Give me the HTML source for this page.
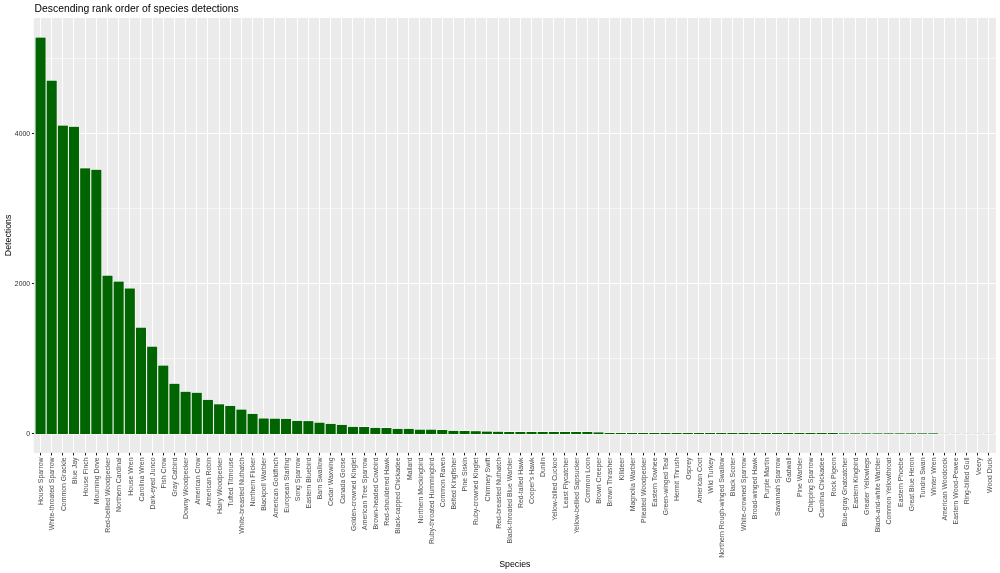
<!DOCTYPE html>
<html><head><meta charset="utf-8"><title>Descending rank order of species detections</title>
<style>
html,body{margin:0;padding:0;background:#fff;}
body{width:1000px;height:573px;overflow:hidden;}
svg{display:block;will-change:transform;}
text{font-family:"Liberation Sans",Arial,Helvetica,sans-serif;}
</style></head><body>
<svg width="1000" height="573" viewBox="0 0 1000 573">
<rect x="0" y="0" width="1000" height="573" fill="#fff"/>
<rect x="33.8" y="17.9" width="962.10" height="435.00" fill="#EBEBEB"/>
<line x1="33.8" x2="995.9" y1="358.5" y2="358.5" stroke="#fff" stroke-width="1" stroke-opacity="0.55"/>
<line x1="33.8" x2="995.9" y1="208.5" y2="208.5" stroke="#fff" stroke-width="1" stroke-opacity="0.55"/>
<line x1="33.8" x2="995.9" y1="58.5" y2="58.5" stroke="#fff" stroke-width="1" stroke-opacity="0.55"/>
<line x1="33.8" x2="995.9" y1="433.5" y2="433.5" stroke="#fff" stroke-width="1"/>
<line x1="33.8" x2="995.9" y1="283.5" y2="283.5" stroke="#fff" stroke-width="1"/>
<line x1="33.8" x2="995.9" y1="133.5" y2="133.5" stroke="#fff" stroke-width="1"/>
<line x1="40.5" x2="40.5" y1="17.9" y2="452.9" stroke="#fff" stroke-width="1"/>
<line x1="51.5" x2="51.5" y1="17.9" y2="452.9" stroke="#fff" stroke-width="1"/>
<line x1="62.5" x2="62.5" y1="17.9" y2="452.9" stroke="#fff" stroke-width="1"/>
<line x1="73.5" x2="73.5" y1="17.9" y2="452.9" stroke="#fff" stroke-width="1"/>
<line x1="85.5" x2="85.5" y1="17.9" y2="452.9" stroke="#fff" stroke-width="1"/>
<line x1="96.5" x2="96.5" y1="17.9" y2="452.9" stroke="#fff" stroke-width="1"/>
<line x1="107.5" x2="107.5" y1="17.9" y2="452.9" stroke="#fff" stroke-width="1"/>
<line x1="118.5" x2="118.5" y1="17.9" y2="452.9" stroke="#fff" stroke-width="1"/>
<line x1="129.5" x2="129.5" y1="17.9" y2="452.9" stroke="#fff" stroke-width="1"/>
<line x1="140.5" x2="140.5" y1="17.9" y2="452.9" stroke="#fff" stroke-width="1"/>
<line x1="152.5" x2="152.5" y1="17.9" y2="452.9" stroke="#fff" stroke-width="1"/>
<line x1="163.5" x2="163.5" y1="17.9" y2="452.9" stroke="#fff" stroke-width="1"/>
<line x1="174.5" x2="174.5" y1="17.9" y2="452.9" stroke="#fff" stroke-width="1"/>
<line x1="185.5" x2="185.5" y1="17.9" y2="452.9" stroke="#fff" stroke-width="1"/>
<line x1="196.5" x2="196.5" y1="17.9" y2="452.9" stroke="#fff" stroke-width="1"/>
<line x1="207.5" x2="207.5" y1="17.9" y2="452.9" stroke="#fff" stroke-width="1"/>
<line x1="219.5" x2="219.5" y1="17.9" y2="452.9" stroke="#fff" stroke-width="1"/>
<line x1="230.5" x2="230.5" y1="17.9" y2="452.9" stroke="#fff" stroke-width="1"/>
<line x1="241.5" x2="241.5" y1="17.9" y2="452.9" stroke="#fff" stroke-width="1"/>
<line x1="252.5" x2="252.5" y1="17.9" y2="452.9" stroke="#fff" stroke-width="1"/>
<line x1="263.5" x2="263.5" y1="17.9" y2="452.9" stroke="#fff" stroke-width="1"/>
<line x1="274.5" x2="274.5" y1="17.9" y2="452.9" stroke="#fff" stroke-width="1"/>
<line x1="285.5" x2="285.5" y1="17.9" y2="452.9" stroke="#fff" stroke-width="1"/>
<line x1="297.5" x2="297.5" y1="17.9" y2="452.9" stroke="#fff" stroke-width="1"/>
<line x1="308.5" x2="308.5" y1="17.9" y2="452.9" stroke="#fff" stroke-width="1"/>
<line x1="319.5" x2="319.5" y1="17.9" y2="452.9" stroke="#fff" stroke-width="1"/>
<line x1="330.5" x2="330.5" y1="17.9" y2="452.9" stroke="#fff" stroke-width="1"/>
<line x1="341.5" x2="341.5" y1="17.9" y2="452.9" stroke="#fff" stroke-width="1"/>
<line x1="352.5" x2="352.5" y1="17.9" y2="452.9" stroke="#fff" stroke-width="1"/>
<line x1="364.5" x2="364.5" y1="17.9" y2="452.9" stroke="#fff" stroke-width="1"/>
<line x1="375.5" x2="375.5" y1="17.9" y2="452.9" stroke="#fff" stroke-width="1"/>
<line x1="386.5" x2="386.5" y1="17.9" y2="452.9" stroke="#fff" stroke-width="1"/>
<line x1="397.5" x2="397.5" y1="17.9" y2="452.9" stroke="#fff" stroke-width="1"/>
<line x1="408.5" x2="408.5" y1="17.9" y2="452.9" stroke="#fff" stroke-width="1"/>
<line x1="419.5" x2="419.5" y1="17.9" y2="452.9" stroke="#fff" stroke-width="1"/>
<line x1="431.5" x2="431.5" y1="17.9" y2="452.9" stroke="#fff" stroke-width="1"/>
<line x1="442.5" x2="442.5" y1="17.9" y2="452.9" stroke="#fff" stroke-width="1"/>
<line x1="453.5" x2="453.5" y1="17.9" y2="452.9" stroke="#fff" stroke-width="1"/>
<line x1="464.5" x2="464.5" y1="17.9" y2="452.9" stroke="#fff" stroke-width="1"/>
<line x1="475.5" x2="475.5" y1="17.9" y2="452.9" stroke="#fff" stroke-width="1"/>
<line x1="486.5" x2="486.5" y1="17.9" y2="452.9" stroke="#fff" stroke-width="1"/>
<line x1="498.5" x2="498.5" y1="17.9" y2="452.9" stroke="#fff" stroke-width="1"/>
<line x1="509.5" x2="509.5" y1="17.9" y2="452.9" stroke="#fff" stroke-width="1"/>
<line x1="520.5" x2="520.5" y1="17.9" y2="452.9" stroke="#fff" stroke-width="1"/>
<line x1="531.5" x2="531.5" y1="17.9" y2="452.9" stroke="#fff" stroke-width="1"/>
<line x1="542.5" x2="542.5" y1="17.9" y2="452.9" stroke="#fff" stroke-width="1"/>
<line x1="553.5" x2="553.5" y1="17.9" y2="452.9" stroke="#fff" stroke-width="1"/>
<line x1="564.5" x2="564.5" y1="17.9" y2="452.9" stroke="#fff" stroke-width="1"/>
<line x1="576.5" x2="576.5" y1="17.9" y2="452.9" stroke="#fff" stroke-width="1"/>
<line x1="587.5" x2="587.5" y1="17.9" y2="452.9" stroke="#fff" stroke-width="1"/>
<line x1="598.5" x2="598.5" y1="17.9" y2="452.9" stroke="#fff" stroke-width="1"/>
<line x1="609.5" x2="609.5" y1="17.9" y2="452.9" stroke="#fff" stroke-width="1"/>
<line x1="620.5" x2="620.5" y1="17.9" y2="452.9" stroke="#fff" stroke-width="1"/>
<line x1="631.5" x2="631.5" y1="17.9" y2="452.9" stroke="#fff" stroke-width="1"/>
<line x1="643.5" x2="643.5" y1="17.9" y2="452.9" stroke="#fff" stroke-width="1"/>
<line x1="654.5" x2="654.5" y1="17.9" y2="452.9" stroke="#fff" stroke-width="1"/>
<line x1="665.5" x2="665.5" y1="17.9" y2="452.9" stroke="#fff" stroke-width="1"/>
<line x1="676.5" x2="676.5" y1="17.9" y2="452.9" stroke="#fff" stroke-width="1"/>
<line x1="687.5" x2="687.5" y1="17.9" y2="452.9" stroke="#fff" stroke-width="1"/>
<line x1="698.5" x2="698.5" y1="17.9" y2="452.9" stroke="#fff" stroke-width="1"/>
<line x1="710.5" x2="710.5" y1="17.9" y2="452.9" stroke="#fff" stroke-width="1"/>
<line x1="721.5" x2="721.5" y1="17.9" y2="452.9" stroke="#fff" stroke-width="1"/>
<line x1="732.5" x2="732.5" y1="17.9" y2="452.9" stroke="#fff" stroke-width="1"/>
<line x1="743.5" x2="743.5" y1="17.9" y2="452.9" stroke="#fff" stroke-width="1"/>
<line x1="754.5" x2="754.5" y1="17.9" y2="452.9" stroke="#fff" stroke-width="1"/>
<line x1="765.5" x2="765.5" y1="17.9" y2="452.9" stroke="#fff" stroke-width="1"/>
<line x1="776.5" x2="776.5" y1="17.9" y2="452.9" stroke="#fff" stroke-width="1"/>
<line x1="788.5" x2="788.5" y1="17.9" y2="452.9" stroke="#fff" stroke-width="1"/>
<line x1="799.5" x2="799.5" y1="17.9" y2="452.9" stroke="#fff" stroke-width="1"/>
<line x1="810.5" x2="810.5" y1="17.9" y2="452.9" stroke="#fff" stroke-width="1"/>
<line x1="821.5" x2="821.5" y1="17.9" y2="452.9" stroke="#fff" stroke-width="1"/>
<line x1="832.5" x2="832.5" y1="17.9" y2="452.9" stroke="#fff" stroke-width="1"/>
<line x1="843.5" x2="843.5" y1="17.9" y2="452.9" stroke="#fff" stroke-width="1"/>
<line x1="855.5" x2="855.5" y1="17.9" y2="452.9" stroke="#fff" stroke-width="1"/>
<line x1="866.5" x2="866.5" y1="17.9" y2="452.9" stroke="#fff" stroke-width="1"/>
<line x1="877.5" x2="877.5" y1="17.9" y2="452.9" stroke="#fff" stroke-width="1"/>
<line x1="888.5" x2="888.5" y1="17.9" y2="452.9" stroke="#fff" stroke-width="1"/>
<line x1="899.5" x2="899.5" y1="17.9" y2="452.9" stroke="#fff" stroke-width="1"/>
<line x1="910.5" x2="910.5" y1="17.9" y2="452.9" stroke="#fff" stroke-width="1"/>
<line x1="922.5" x2="922.5" y1="17.9" y2="452.9" stroke="#fff" stroke-width="1"/>
<line x1="933.5" x2="933.5" y1="17.9" y2="452.9" stroke="#fff" stroke-width="1"/>
<line x1="944.5" x2="944.5" y1="17.9" y2="452.9" stroke="#fff" stroke-width="1"/>
<line x1="955.5" x2="955.5" y1="17.9" y2="452.9" stroke="#fff" stroke-width="1"/>
<line x1="966.5" x2="966.5" y1="17.9" y2="452.9" stroke="#fff" stroke-width="1"/>
<line x1="977.5" x2="977.5" y1="17.9" y2="452.9" stroke="#fff" stroke-width="1"/>
<line x1="988.5" x2="988.5" y1="17.9" y2="452.9" stroke="#fff" stroke-width="1"/>
<g fill="#006400" stroke="#fff" stroke-width="1" paint-order="stroke">
<rect x="35.53" y="37.60" width="10.04" height="396.40"/>
<rect x="46.69" y="80.70" width="10.04" height="353.30"/>
<rect x="57.85" y="125.60" width="10.04" height="308.40"/>
<rect x="69.00" y="126.80" width="10.04" height="307.20"/>
<rect x="80.16" y="168.35" width="10.04" height="265.65"/>
<rect x="91.32" y="169.80" width="10.04" height="264.20"/>
<rect x="102.48" y="275.70" width="10.04" height="158.30"/>
<rect x="113.64" y="281.60" width="10.04" height="152.40"/>
<rect x="124.80" y="288.50" width="10.04" height="145.50"/>
<rect x="135.96" y="327.70" width="10.04" height="106.30"/>
<rect x="147.12" y="346.70" width="10.04" height="87.30"/>
<rect x="158.27" y="365.60" width="10.04" height="68.40"/>
<rect x="169.43" y="383.80" width="10.04" height="50.20"/>
<rect x="180.59" y="391.80" width="10.04" height="42.20"/>
<rect x="191.75" y="392.80" width="10.04" height="41.20"/>
<rect x="202.91" y="399.90" width="10.04" height="34.10"/>
<rect x="214.07" y="404.30" width="10.04" height="29.70"/>
<rect x="225.23" y="405.90" width="10.04" height="28.10"/>
<rect x="236.39" y="409.60" width="10.04" height="24.40"/>
<rect x="247.54" y="413.90" width="10.04" height="20.10"/>
<rect x="258.70" y="418.50" width="10.04" height="15.50"/>
<rect x="269.86" y="418.70" width="10.04" height="15.30"/>
<rect x="281.02" y="418.90" width="10.04" height="15.10"/>
<rect x="292.18" y="420.90" width="10.04" height="13.10"/>
<rect x="303.34" y="421.10" width="10.04" height="12.90"/>
<rect x="314.50" y="422.70" width="10.04" height="11.30"/>
<rect x="325.65" y="423.90" width="10.04" height="10.10"/>
<rect x="336.81" y="424.90" width="10.04" height="9.10"/>
<rect x="347.97" y="426.90" width="10.04" height="7.10"/>
<rect x="359.13" y="427.00" width="10.04" height="7.00"/>
<rect x="370.29" y="427.90" width="10.04" height="6.10"/>
<rect x="381.45" y="428.00" width="10.04" height="6.00"/>
<rect x="392.61" y="428.90" width="10.04" height="5.10"/>
<rect x="403.77" y="428.90" width="10.04" height="5.10"/>
<rect x="414.92" y="429.70" width="10.04" height="4.30"/>
<rect x="426.08" y="429.70" width="10.04" height="4.30"/>
<rect x="437.24" y="430.00" width="10.04" height="4.00"/>
<rect x="448.40" y="430.90" width="10.04" height="3.10"/>
<rect x="459.56" y="431.00" width="10.04" height="3.00"/>
<rect x="470.72" y="431.20" width="10.04" height="2.80"/>
<rect x="481.88" y="431.60" width="10.04" height="2.40"/>
<rect x="493.04" y="431.80" width="10.04" height="2.20"/>
<rect x="504.19" y="432.00" width="10.04" height="2.00"/>
<rect x="515.35" y="432.00" width="10.04" height="2.00"/>
<rect x="526.51" y="432.00" width="10.04" height="2.00"/>
<rect x="537.67" y="432.00" width="10.04" height="2.00"/>
<rect x="548.83" y="432.00" width="10.04" height="2.00"/>
<rect x="559.99" y="432.00" width="10.04" height="2.00"/>
<rect x="571.15" y="432.00" width="10.04" height="2.00"/>
<rect x="582.30" y="432.00" width="10.04" height="2.00"/>
<rect x="593.46" y="432.40" width="10.04" height="1.60"/>
<rect x="604.62" y="433.00" width="10.04" height="1.00"/>
<rect x="615.78" y="433.00" width="10.04" height="1.00"/>
<rect x="626.94" y="433.00" width="10.04" height="1.00"/>
<rect x="638.10" y="433.00" width="10.04" height="1.00"/>
<rect x="649.26" y="433.00" width="10.04" height="1.00"/>
<rect x="660.42" y="433.00" width="10.04" height="1.00"/>
<rect x="671.57" y="433.00" width="10.04" height="1.00"/>
<rect x="682.73" y="433.00" width="10.04" height="1.00"/>
<rect x="693.89" y="433.00" width="10.04" height="1.00"/>
<rect x="705.05" y="433.00" width="10.04" height="1.00"/>
<rect x="716.21" y="433.00" width="10.04" height="1.00"/>
<rect x="727.37" y="433.00" width="10.04" height="1.00"/>
<rect x="738.53" y="433.00" width="10.04" height="1.00"/>
<rect x="749.69" y="433.00" width="10.04" height="1.00"/>
<rect x="760.84" y="433.00" width="10.04" height="1.00"/>
<rect x="772.00" y="433.00" width="10.04" height="1.00"/>
<rect x="783.16" y="433.00" width="10.04" height="1.00"/>
<rect x="794.32" y="433.00" width="10.04" height="1.00"/>
<rect x="805.48" y="433.00" width="10.04" height="1.00"/>
<rect x="816.64" y="433.00" width="10.04" height="1.00"/>
<rect x="827.80" y="433.00" width="10.04" height="1.00"/>
<rect x="838.95" y="433.35" width="10.04" height="0.65"/>
<rect x="850.11" y="433.35" width="10.04" height="0.65"/>
<rect x="861.27" y="433.35" width="10.04" height="0.65"/>
<rect x="872.43" y="433.35" width="10.04" height="0.65"/>
<rect x="883.59" y="433.35" width="10.04" height="0.65"/>
<rect x="894.75" y="433.35" width="10.04" height="0.65"/>
<rect x="905.91" y="433.35" width="10.04" height="0.65"/>
<rect x="917.07" y="433.35" width="10.04" height="0.65"/>
<rect x="928.22" y="433.35" width="10.04" height="0.65"/>
<rect x="939.38" y="433.85" width="10.04" height="0.15"/>
<rect x="950.54" y="433.85" width="10.04" height="0.15"/>
<rect x="961.70" y="433.85" width="10.04" height="0.15"/>
<rect x="972.86" y="433.85" width="10.04" height="0.15"/>
<rect x="984.02" y="433.85" width="10.04" height="0.15"/>
</g>
<line x1="31.9" x2="34.1" y1="433.5" y2="433.5" stroke="#1a1a1a" stroke-width="1"/>
<line x1="31.9" x2="34.1" y1="283.5" y2="283.5" stroke="#1a1a1a" stroke-width="1"/>
<line x1="31.9" x2="34.1" y1="133.5" y2="133.5" stroke="#1a1a1a" stroke-width="1"/>
<line x1="40.50" x2="40.50" y1="452.9" y2="455.40" stroke="#1a1a1a" stroke-width="1"/>
<line x1="51.50" x2="51.50" y1="452.9" y2="455.40" stroke="#1a1a1a" stroke-width="1"/>
<line x1="62.50" x2="62.50" y1="452.9" y2="455.40" stroke="#1a1a1a" stroke-width="1"/>
<line x1="73.50" x2="73.50" y1="452.9" y2="455.40" stroke="#1a1a1a" stroke-width="1"/>
<line x1="85.50" x2="85.50" y1="452.9" y2="455.40" stroke="#1a1a1a" stroke-width="1"/>
<line x1="96.50" x2="96.50" y1="452.9" y2="455.40" stroke="#1a1a1a" stroke-width="1"/>
<line x1="107.50" x2="107.50" y1="452.9" y2="455.40" stroke="#1a1a1a" stroke-width="1"/>
<line x1="118.50" x2="118.50" y1="452.9" y2="455.40" stroke="#1a1a1a" stroke-width="1"/>
<line x1="129.50" x2="129.50" y1="452.9" y2="455.40" stroke="#1a1a1a" stroke-width="1"/>
<line x1="140.50" x2="140.50" y1="452.9" y2="455.40" stroke="#1a1a1a" stroke-width="1"/>
<line x1="152.50" x2="152.50" y1="452.9" y2="455.40" stroke="#1a1a1a" stroke-width="1"/>
<line x1="163.50" x2="163.50" y1="452.9" y2="455.40" stroke="#1a1a1a" stroke-width="1"/>
<line x1="174.50" x2="174.50" y1="452.9" y2="455.40" stroke="#1a1a1a" stroke-width="1"/>
<line x1="185.50" x2="185.50" y1="452.9" y2="455.40" stroke="#1a1a1a" stroke-width="1"/>
<line x1="196.50" x2="196.50" y1="452.9" y2="455.40" stroke="#1a1a1a" stroke-width="1"/>
<line x1="207.50" x2="207.50" y1="452.9" y2="455.40" stroke="#1a1a1a" stroke-width="1"/>
<line x1="219.50" x2="219.50" y1="452.9" y2="455.40" stroke="#1a1a1a" stroke-width="1"/>
<line x1="230.50" x2="230.50" y1="452.9" y2="455.40" stroke="#1a1a1a" stroke-width="1"/>
<line x1="241.50" x2="241.50" y1="452.9" y2="455.40" stroke="#1a1a1a" stroke-width="1"/>
<line x1="252.50" x2="252.50" y1="452.9" y2="455.40" stroke="#1a1a1a" stroke-width="1"/>
<line x1="263.50" x2="263.50" y1="452.9" y2="455.40" stroke="#1a1a1a" stroke-width="1"/>
<line x1="274.50" x2="274.50" y1="452.9" y2="455.40" stroke="#1a1a1a" stroke-width="1"/>
<line x1="285.50" x2="285.50" y1="452.9" y2="455.40" stroke="#1a1a1a" stroke-width="1"/>
<line x1="297.50" x2="297.50" y1="452.9" y2="455.40" stroke="#1a1a1a" stroke-width="1"/>
<line x1="308.50" x2="308.50" y1="452.9" y2="455.40" stroke="#1a1a1a" stroke-width="1"/>
<line x1="319.50" x2="319.50" y1="452.9" y2="455.40" stroke="#1a1a1a" stroke-width="1"/>
<line x1="330.50" x2="330.50" y1="452.9" y2="455.40" stroke="#1a1a1a" stroke-width="1"/>
<line x1="341.50" x2="341.50" y1="452.9" y2="455.40" stroke="#1a1a1a" stroke-width="1"/>
<line x1="352.50" x2="352.50" y1="452.9" y2="455.40" stroke="#1a1a1a" stroke-width="1"/>
<line x1="364.50" x2="364.50" y1="452.9" y2="455.40" stroke="#1a1a1a" stroke-width="1"/>
<line x1="375.50" x2="375.50" y1="452.9" y2="455.40" stroke="#1a1a1a" stroke-width="1"/>
<line x1="386.50" x2="386.50" y1="452.9" y2="455.40" stroke="#1a1a1a" stroke-width="1"/>
<line x1="397.50" x2="397.50" y1="452.9" y2="455.40" stroke="#1a1a1a" stroke-width="1"/>
<line x1="408.50" x2="408.50" y1="452.9" y2="455.40" stroke="#1a1a1a" stroke-width="1"/>
<line x1="419.50" x2="419.50" y1="452.9" y2="455.40" stroke="#1a1a1a" stroke-width="1"/>
<line x1="431.50" x2="431.50" y1="452.9" y2="455.40" stroke="#1a1a1a" stroke-width="1"/>
<line x1="442.50" x2="442.50" y1="452.9" y2="455.40" stroke="#1a1a1a" stroke-width="1"/>
<line x1="453.50" x2="453.50" y1="452.9" y2="455.40" stroke="#1a1a1a" stroke-width="1"/>
<line x1="464.50" x2="464.50" y1="452.9" y2="455.40" stroke="#1a1a1a" stroke-width="1"/>
<line x1="475.50" x2="475.50" y1="452.9" y2="455.40" stroke="#1a1a1a" stroke-width="1"/>
<line x1="486.50" x2="486.50" y1="452.9" y2="455.40" stroke="#1a1a1a" stroke-width="1"/>
<line x1="498.50" x2="498.50" y1="452.9" y2="455.40" stroke="#1a1a1a" stroke-width="1"/>
<line x1="509.50" x2="509.50" y1="452.9" y2="455.40" stroke="#1a1a1a" stroke-width="1"/>
<line x1="520.50" x2="520.50" y1="452.9" y2="455.40" stroke="#1a1a1a" stroke-width="1"/>
<line x1="531.50" x2="531.50" y1="452.9" y2="455.40" stroke="#1a1a1a" stroke-width="1"/>
<line x1="542.50" x2="542.50" y1="452.9" y2="455.40" stroke="#1a1a1a" stroke-width="1"/>
<line x1="553.50" x2="553.50" y1="452.9" y2="455.40" stroke="#1a1a1a" stroke-width="1"/>
<line x1="564.50" x2="564.50" y1="452.9" y2="455.40" stroke="#1a1a1a" stroke-width="1"/>
<line x1="576.50" x2="576.50" y1="452.9" y2="455.40" stroke="#1a1a1a" stroke-width="1"/>
<line x1="587.50" x2="587.50" y1="452.9" y2="455.40" stroke="#1a1a1a" stroke-width="1"/>
<line x1="598.50" x2="598.50" y1="452.9" y2="455.40" stroke="#1a1a1a" stroke-width="1"/>
<line x1="609.50" x2="609.50" y1="452.9" y2="455.40" stroke="#1a1a1a" stroke-width="1"/>
<line x1="620.50" x2="620.50" y1="452.9" y2="455.40" stroke="#1a1a1a" stroke-width="1"/>
<line x1="631.50" x2="631.50" y1="452.9" y2="455.40" stroke="#1a1a1a" stroke-width="1"/>
<line x1="643.50" x2="643.50" y1="452.9" y2="455.40" stroke="#1a1a1a" stroke-width="1"/>
<line x1="654.50" x2="654.50" y1="452.9" y2="455.40" stroke="#1a1a1a" stroke-width="1"/>
<line x1="665.50" x2="665.50" y1="452.9" y2="455.40" stroke="#1a1a1a" stroke-width="1"/>
<line x1="676.50" x2="676.50" y1="452.9" y2="455.40" stroke="#1a1a1a" stroke-width="1"/>
<line x1="687.50" x2="687.50" y1="452.9" y2="455.40" stroke="#1a1a1a" stroke-width="1"/>
<line x1="698.50" x2="698.50" y1="452.9" y2="455.40" stroke="#1a1a1a" stroke-width="1"/>
<line x1="710.50" x2="710.50" y1="452.9" y2="455.40" stroke="#1a1a1a" stroke-width="1"/>
<line x1="721.50" x2="721.50" y1="452.9" y2="455.40" stroke="#1a1a1a" stroke-width="1"/>
<line x1="732.50" x2="732.50" y1="452.9" y2="455.40" stroke="#1a1a1a" stroke-width="1"/>
<line x1="743.50" x2="743.50" y1="452.9" y2="455.40" stroke="#1a1a1a" stroke-width="1"/>
<line x1="754.50" x2="754.50" y1="452.9" y2="455.40" stroke="#1a1a1a" stroke-width="1"/>
<line x1="765.50" x2="765.50" y1="452.9" y2="455.40" stroke="#1a1a1a" stroke-width="1"/>
<line x1="776.50" x2="776.50" y1="452.9" y2="455.40" stroke="#1a1a1a" stroke-width="1"/>
<line x1="788.50" x2="788.50" y1="452.9" y2="455.40" stroke="#1a1a1a" stroke-width="1"/>
<line x1="799.50" x2="799.50" y1="452.9" y2="455.40" stroke="#1a1a1a" stroke-width="1"/>
<line x1="810.50" x2="810.50" y1="452.9" y2="455.40" stroke="#1a1a1a" stroke-width="1"/>
<line x1="821.50" x2="821.50" y1="452.9" y2="455.40" stroke="#1a1a1a" stroke-width="1"/>
<line x1="832.50" x2="832.50" y1="452.9" y2="455.40" stroke="#1a1a1a" stroke-width="1"/>
<line x1="843.50" x2="843.50" y1="452.9" y2="455.40" stroke="#1a1a1a" stroke-width="1"/>
<line x1="855.50" x2="855.50" y1="452.9" y2="455.40" stroke="#1a1a1a" stroke-width="1"/>
<line x1="866.50" x2="866.50" y1="452.9" y2="455.40" stroke="#1a1a1a" stroke-width="1"/>
<line x1="877.50" x2="877.50" y1="452.9" y2="455.40" stroke="#1a1a1a" stroke-width="1"/>
<line x1="888.50" x2="888.50" y1="452.9" y2="455.40" stroke="#1a1a1a" stroke-width="1"/>
<line x1="899.50" x2="899.50" y1="452.9" y2="455.40" stroke="#1a1a1a" stroke-width="1"/>
<line x1="910.50" x2="910.50" y1="452.9" y2="455.40" stroke="#1a1a1a" stroke-width="1"/>
<line x1="922.50" x2="922.50" y1="452.9" y2="455.40" stroke="#1a1a1a" stroke-width="1"/>
<line x1="933.50" x2="933.50" y1="452.9" y2="455.40" stroke="#1a1a1a" stroke-width="1"/>
<line x1="944.50" x2="944.50" y1="452.9" y2="455.40" stroke="#1a1a1a" stroke-width="1"/>
<line x1="955.50" x2="955.50" y1="452.9" y2="455.40" stroke="#1a1a1a" stroke-width="1"/>
<line x1="966.50" x2="966.50" y1="452.9" y2="455.40" stroke="#1a1a1a" stroke-width="1"/>
<line x1="977.50" x2="977.50" y1="452.9" y2="455.40" stroke="#1a1a1a" stroke-width="1"/>
<line x1="988.50" x2="988.50" y1="452.9" y2="455.40" stroke="#1a1a1a" stroke-width="1"/>
<g font-size="6.85" fill="#2a2a2a">
<text x="30.1" y="436.00" text-anchor="end">0</text>
<text x="30.1" y="285.95" text-anchor="end">2000</text>
<text x="30.1" y="135.90" text-anchor="end">4000</text>
</g>
<g font-size="6.9" fill="#4d4d4d">
<text transform="translate(43.30,457.5) rotate(-90)" text-anchor="end">House Sparrow</text>
<text transform="translate(54.46,457.5) rotate(-90)" text-anchor="end">White-throated Sparrow</text>
<text transform="translate(65.62,457.5) rotate(-90)" text-anchor="end">Common Grackle</text>
<text transform="translate(76.78,457.5) rotate(-90)" text-anchor="end">Blue Jay</text>
<text transform="translate(87.93,457.5) rotate(-90)" text-anchor="end">House Finch</text>
<text transform="translate(99.09,457.5) rotate(-90)" text-anchor="end">Mourning Dove</text>
<text transform="translate(110.25,457.5) rotate(-90)" text-anchor="end">Red-bellied Woodpecker</text>
<text transform="translate(121.41,457.5) rotate(-90)" text-anchor="end">Northern Cardinal</text>
<text transform="translate(132.57,457.5) rotate(-90)" text-anchor="end">House Wren</text>
<text transform="translate(143.73,457.5) rotate(-90)" text-anchor="end">Carolina Wren</text>
<text transform="translate(154.89,457.5) rotate(-90)" text-anchor="end">Dark-eyed Junco</text>
<text transform="translate(166.05,457.5) rotate(-90)" text-anchor="end">Fish Crow</text>
<text transform="translate(177.20,457.5) rotate(-90)" text-anchor="end">Gray Catbird</text>
<text transform="translate(188.36,457.5) rotate(-90)" text-anchor="end">Downy Woodpecker</text>
<text transform="translate(199.52,457.5) rotate(-90)" text-anchor="end">American Crow</text>
<text transform="translate(210.68,457.5) rotate(-90)" text-anchor="end">American Robin</text>
<text transform="translate(221.84,457.5) rotate(-90)" text-anchor="end">Hairy Woodpecker</text>
<text transform="translate(233.00,457.5) rotate(-90)" text-anchor="end">Tufted Titmouse</text>
<text transform="translate(244.16,457.5) rotate(-90)" text-anchor="end">White-breasted Nuthatch</text>
<text transform="translate(255.32,457.5) rotate(-90)" text-anchor="end">Northern Flicker</text>
<text transform="translate(266.47,457.5) rotate(-90)" text-anchor="end">Blackpoll Warbler</text>
<text transform="translate(277.63,457.5) rotate(-90)" text-anchor="end">American Goldfinch</text>
<text transform="translate(288.79,457.5) rotate(-90)" text-anchor="end">European Starling</text>
<text transform="translate(299.95,457.5) rotate(-90)" text-anchor="end">Song Sparrow</text>
<text transform="translate(311.11,457.5) rotate(-90)" text-anchor="end">Eastern Bluebird</text>
<text transform="translate(322.27,457.5) rotate(-90)" text-anchor="end">Barn Swallow</text>
<text transform="translate(333.43,457.5) rotate(-90)" text-anchor="end">Cedar Waxwing</text>
<text transform="translate(344.58,457.5) rotate(-90)" text-anchor="end">Canada Goose</text>
<text transform="translate(355.74,457.5) rotate(-90)" text-anchor="end">Golden-crowned Kinglet</text>
<text transform="translate(366.90,457.5) rotate(-90)" text-anchor="end">American Tree Sparrow</text>
<text transform="translate(378.06,457.5) rotate(-90)" text-anchor="end">Brown-headed Cowbird</text>
<text transform="translate(389.22,457.5) rotate(-90)" text-anchor="end">Red-shouldered Hawk</text>
<text transform="translate(400.38,457.5) rotate(-90)" text-anchor="end">Black-capped Chickadee</text>
<text transform="translate(411.54,457.5) rotate(-90)" text-anchor="end">Mallard</text>
<text transform="translate(422.70,457.5) rotate(-90)" text-anchor="end">Northern Mockingbird</text>
<text transform="translate(433.85,457.5) rotate(-90)" text-anchor="end">Ruby-throated Hummingbird</text>
<text transform="translate(445.01,457.5) rotate(-90)" text-anchor="end">Common Raven</text>
<text transform="translate(456.17,457.5) rotate(-90)" text-anchor="end">Belted Kingfisher</text>
<text transform="translate(467.33,457.5) rotate(-90)" text-anchor="end">Pine Siskin</text>
<text transform="translate(478.49,457.5) rotate(-90)" text-anchor="end">Ruby-crowned Kinglet</text>
<text transform="translate(489.65,457.5) rotate(-90)" text-anchor="end">Chimney Swift</text>
<text transform="translate(500.81,457.5) rotate(-90)" text-anchor="end">Red-breasted Nuthatch</text>
<text transform="translate(511.97,457.5) rotate(-90)" text-anchor="end">Black-throated Blue Warbler</text>
<text transform="translate(523.12,457.5) rotate(-90)" text-anchor="end">Red-tailed Hawk</text>
<text transform="translate(534.28,457.5) rotate(-90)" text-anchor="end">Cooper&#39;s Hawk</text>
<text transform="translate(545.44,457.5) rotate(-90)" text-anchor="end">Dunlin</text>
<text transform="translate(556.60,457.5) rotate(-90)" text-anchor="end">Yellow-billed Cuckoo</text>
<text transform="translate(567.76,457.5) rotate(-90)" text-anchor="end">Least Flycatcher</text>
<text transform="translate(578.92,457.5) rotate(-90)" text-anchor="end">Yellow-bellied Sapsucker</text>
<text transform="translate(590.08,457.5) rotate(-90)" text-anchor="end">Common Loon</text>
<text transform="translate(601.23,457.5) rotate(-90)" text-anchor="end">Brown Creeper</text>
<text transform="translate(612.39,457.5) rotate(-90)" text-anchor="end">Brown Thrasher</text>
<text transform="translate(623.55,457.5) rotate(-90)" text-anchor="end">Killdeer</text>
<text transform="translate(634.71,457.5) rotate(-90)" text-anchor="end">Magnolia Warbler</text>
<text transform="translate(645.87,457.5) rotate(-90)" text-anchor="end">Pileated Woodpecker</text>
<text transform="translate(657.03,457.5) rotate(-90)" text-anchor="end">Eastern Towhee</text>
<text transform="translate(668.19,457.5) rotate(-90)" text-anchor="end">Green-winged Teal</text>
<text transform="translate(679.35,457.5) rotate(-90)" text-anchor="end">Hermit Thrush</text>
<text transform="translate(690.50,457.5) rotate(-90)" text-anchor="end">Osprey</text>
<text transform="translate(701.66,457.5) rotate(-90)" text-anchor="end">American Coot</text>
<text transform="translate(712.82,457.5) rotate(-90)" text-anchor="end">Wild Turkey</text>
<text transform="translate(723.98,457.5) rotate(-90)" text-anchor="end">Northern Rough-winged Swallow</text>
<text transform="translate(735.14,457.5) rotate(-90)" text-anchor="end">Black Scoter</text>
<text transform="translate(746.30,457.5) rotate(-90)" text-anchor="end">White-crowned Sparrow</text>
<text transform="translate(757.46,457.5) rotate(-90)" text-anchor="end">Broad-winged Hawk</text>
<text transform="translate(768.62,457.5) rotate(-90)" text-anchor="end">Purple Martin</text>
<text transform="translate(779.77,457.5) rotate(-90)" text-anchor="end">Savannah Sparrow</text>
<text transform="translate(790.93,457.5) rotate(-90)" text-anchor="end">Gadwall</text>
<text transform="translate(802.09,457.5) rotate(-90)" text-anchor="end">Pine Warbler</text>
<text transform="translate(813.25,457.5) rotate(-90)" text-anchor="end">Chipping Sparrow</text>
<text transform="translate(824.41,457.5) rotate(-90)" text-anchor="end">Carolina Chickadee</text>
<text transform="translate(835.57,457.5) rotate(-90)" text-anchor="end">Rock Pigeon</text>
<text transform="translate(846.73,457.5) rotate(-90)" text-anchor="end">Blue-gray Gnatcatcher</text>
<text transform="translate(857.89,457.5) rotate(-90)" text-anchor="end">Eastern Kingbird</text>
<text transform="translate(869.04,457.5) rotate(-90)" text-anchor="end">Greater Yellowlegs</text>
<text transform="translate(880.20,457.5) rotate(-90)" text-anchor="end">Black-and-white Warbler</text>
<text transform="translate(891.36,457.5) rotate(-90)" text-anchor="end">Common Yellowthroat</text>
<text transform="translate(902.52,457.5) rotate(-90)" text-anchor="end">Eastern Phoebe</text>
<text transform="translate(913.68,457.5) rotate(-90)" text-anchor="end">Great Blue Heron</text>
<text transform="translate(924.84,457.5) rotate(-90)" text-anchor="end">Tundra Swan</text>
<text transform="translate(936.00,457.5) rotate(-90)" text-anchor="end">Winter Wren</text>
<text transform="translate(947.15,457.5) rotate(-90)" text-anchor="end">American Woodcock</text>
<text transform="translate(958.31,457.5) rotate(-90)" text-anchor="end">Eastern Wood-Pewee</text>
<text transform="translate(969.47,457.5) rotate(-90)" text-anchor="end">Ring-billed Gull</text>
<text transform="translate(980.63,457.5) rotate(-90)" text-anchor="end">Veery</text>
<text transform="translate(991.79,457.5) rotate(-90)" text-anchor="end">Wood Duck</text>
</g>
<text x="34.6" y="11.7" font-size="10.35" fill="#000">Descending rank order of species detections</text>
<text x="514.85" y="566.6" font-size="8.8" fill="#000" text-anchor="middle">Species</text>
<text transform="translate(11.4,235.40) rotate(-90)" font-size="8.8" fill="#000" text-anchor="middle">Detections</text>
</svg>
</body></html>
